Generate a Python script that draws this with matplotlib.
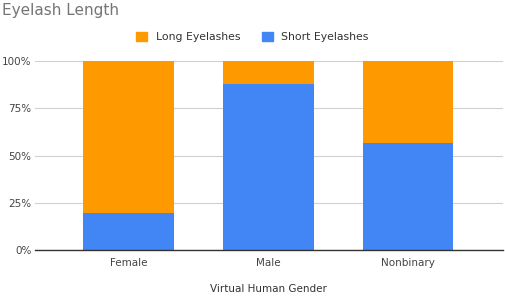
import matplotlib
matplotlib.use("Agg")
import matplotlib.pyplot as plt
from matplotlib.patches import Patch
from matplotlib.ticker import PercentFormatter

ORANGE = "#FF9900"
BLUE = "#4285F4"

genders = ["Female", "Male", "Nonbinary"]
short_pct = [19.5, 87.8, 56.8]
long_pct = [80.5, 12.2, 43.2]

fig = plt.figure(figsize=(5.05, 2.96), dpi=100)
ax = fig.add_axes([0.069, 0.155, 0.927, 0.639])

x = range(len(genders))
ax.bar(x, short_pct, width=0.65, color=BLUE, zorder=2)
ax.bar(x, long_pct, width=0.65, bottom=short_pct, color=ORANGE, zorder=2)

ax.set_xlim(-0.67, 2.68)
ax.set_ylim(0, 100)
ax.set_yticks([0, 25, 50, 75, 100])
ax.yaxis.set_major_formatter(PercentFormatter(decimals=0))
ax.set_xticks(list(x))
ax.set_xticklabels(genders)
ax.tick_params(axis="both", length=0, labelsize=7.5, colors="#444444")
ax.tick_params(axis="x", pad=6)
ax.tick_params(axis="y", pad=2.5)
ax.grid(axis="y", color="#d0d0d0", linewidth=0.8, zorder=0)
for s in ["top", "right", "left"]:
    ax.spines[s].set_visible(False)
ax.spines["bottom"].set_color("#333333")
ax.spines["bottom"].set_linewidth(1.0)
ax.spines["bottom"].set_zorder(3)
ax.set_xlabel("Virtual Human Gender", fontsize=7.5, color="#333333", labelpad=11)

fig.text(0.004, 0.965, "Eyelash Length", fontsize=11, color="#757575",
         ha="left", va="center")

handles = [Patch(color=ORANGE, label="Long Eyelashes"),
           Patch(color=BLUE, label="Short Eyelashes")]
fig.legend(handles=handles, loc="center", bbox_to_anchor=(0.5, 0.875), ncol=2,
           frameon=False, fontsize=7.8, handlelength=1.0, handleheight=1.0,
           columnspacing=2.0, handletextpad=0.8, labelcolor="#333333")

fig.savefig("out.png", dpi=100, facecolor="white")
